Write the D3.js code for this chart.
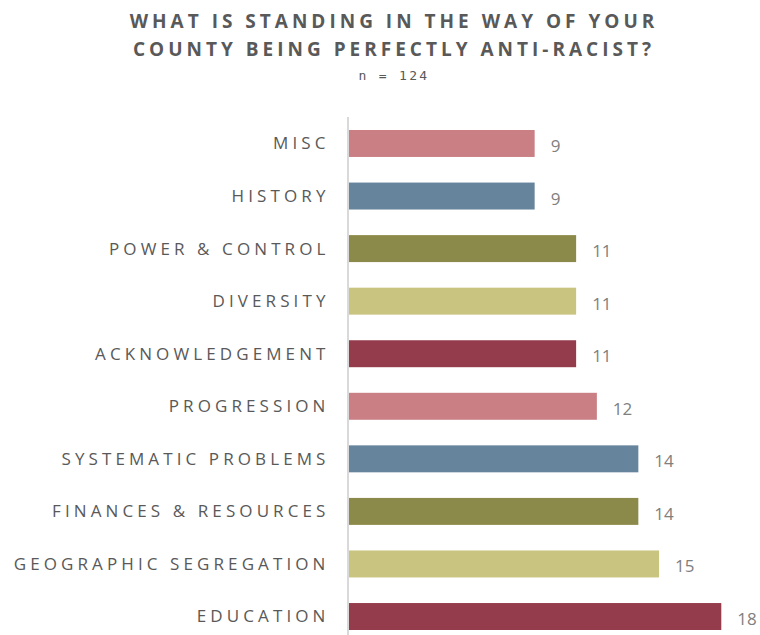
<!DOCTYPE html>
<html>
<head>
<meta charset="utf-8">
<script src="https://cdn.jsdelivr.net/npm/d3@7"></script>
<style>
html,body{margin:0;padding:0;background:#fff;}
svg{display:block;}
</style>
</head>
<body>
<svg id="chart" width="760" height="635"></svg>
<script>
const categories = ["MISC","HISTORY","POWER & CONTROL","DIVERSITY","ACKNOWLEDGEMENT","PROGRESSION","SYSTEMATIC PROBLEMS","FINANCES & RESOURCES","GEOGRAPHIC SEGREGATION","EDUCATION"];
const values = [9,9,11,11,11,12,14,14,15,18];
const colors = ["#c97f84","#66849c","#8c8a4a","#c9c47f","#953c4c","#c97f84","#66849c","#8c8a4a","#c9c47f","#953c4c"];
const titleLines = ["WHAT IS STANDING IN THE WAY OF YOUR","COUNTY BEING PERFECTLY ANTI-RACIST?"];
const subtitle = "n = 124";

const svg = d3.select("#chart");
const x = d3.scaleLinear().domain([0,18]).range([348,721.3]);
const y = d3.scaleBand().domain(categories).range([117.2,642.8]).paddingInner(0.487).paddingOuter(0.2435);

const cx = 394;
svg.selectAll("text.title").data(titleLines).join("text")
  .attr("class","title")
  .attr("x",cx).attr("y",(d,i)=>27.5+i*28.5)
  .attr("text-anchor","middle")
  .attr("font-family","'Open Sans', sans-serif")
  .attr("font-weight","bold")
  .attr("font-size","19px")
  .attr("letter-spacing","4px")
  .attr("fill","#595959")
  .text(d=>d);

svg.append("text")
  .attr("x",cx).attr("y",80)
  .attr("text-anchor","middle")
  .attr("font-family","'DejaVu Sans Mono', monospace")
  .attr("font-size","13px")
  .attr("letter-spacing","2.3px")
  .attr("fill","#595959")
  .text(subtitle);

svg.selectAll("rect.bar").data(values).join("rect")
  .attr("class","bar")
  .attr("x",x(0))
  .attr("y",(d,i)=>y(categories[i]))
  .attr("width",d=>x(d)-x(0))
  .attr("height",y.bandwidth())
  .attr("fill",(d,i)=>colors[i]);

// axis line
svg.append("line")
  .attr("x1",x(0)).attr("x2",x(0))
  .attr("y1",117).attr("y2",643)
  .attr("stroke","#d9d9d9").attr("stroke-width",2);

svg.selectAll("text.cat").data(categories).join("text")
  .attr("class","cat")
  .attr("x",329.5)
  .attr("y",d=>y(d)+y.bandwidth()/2)
  .attr("dy","0.35em")
  .attr("text-anchor","end")
  .attr("font-family","'Open Sans', sans-serif")
  .attr("font-size","17px")
  .attr("letter-spacing","4.1px")
  .attr("fill","#595959")
  .text(d=>d);

svg.selectAll("text.val").data(values).join("text")
  .attr("class","val")
  .attr("x",d=>x(d)+16)
  .attr("y",(d,i)=>y(categories[i])+y.bandwidth()/2)
  .attr("dy","0.5em")
  .attr("font-family","'Open Sans', sans-serif")
  .attr("font-size","17px")
  .attr("fill","#808080")
  .text(d=>d);
</script>
</body>
</html>
